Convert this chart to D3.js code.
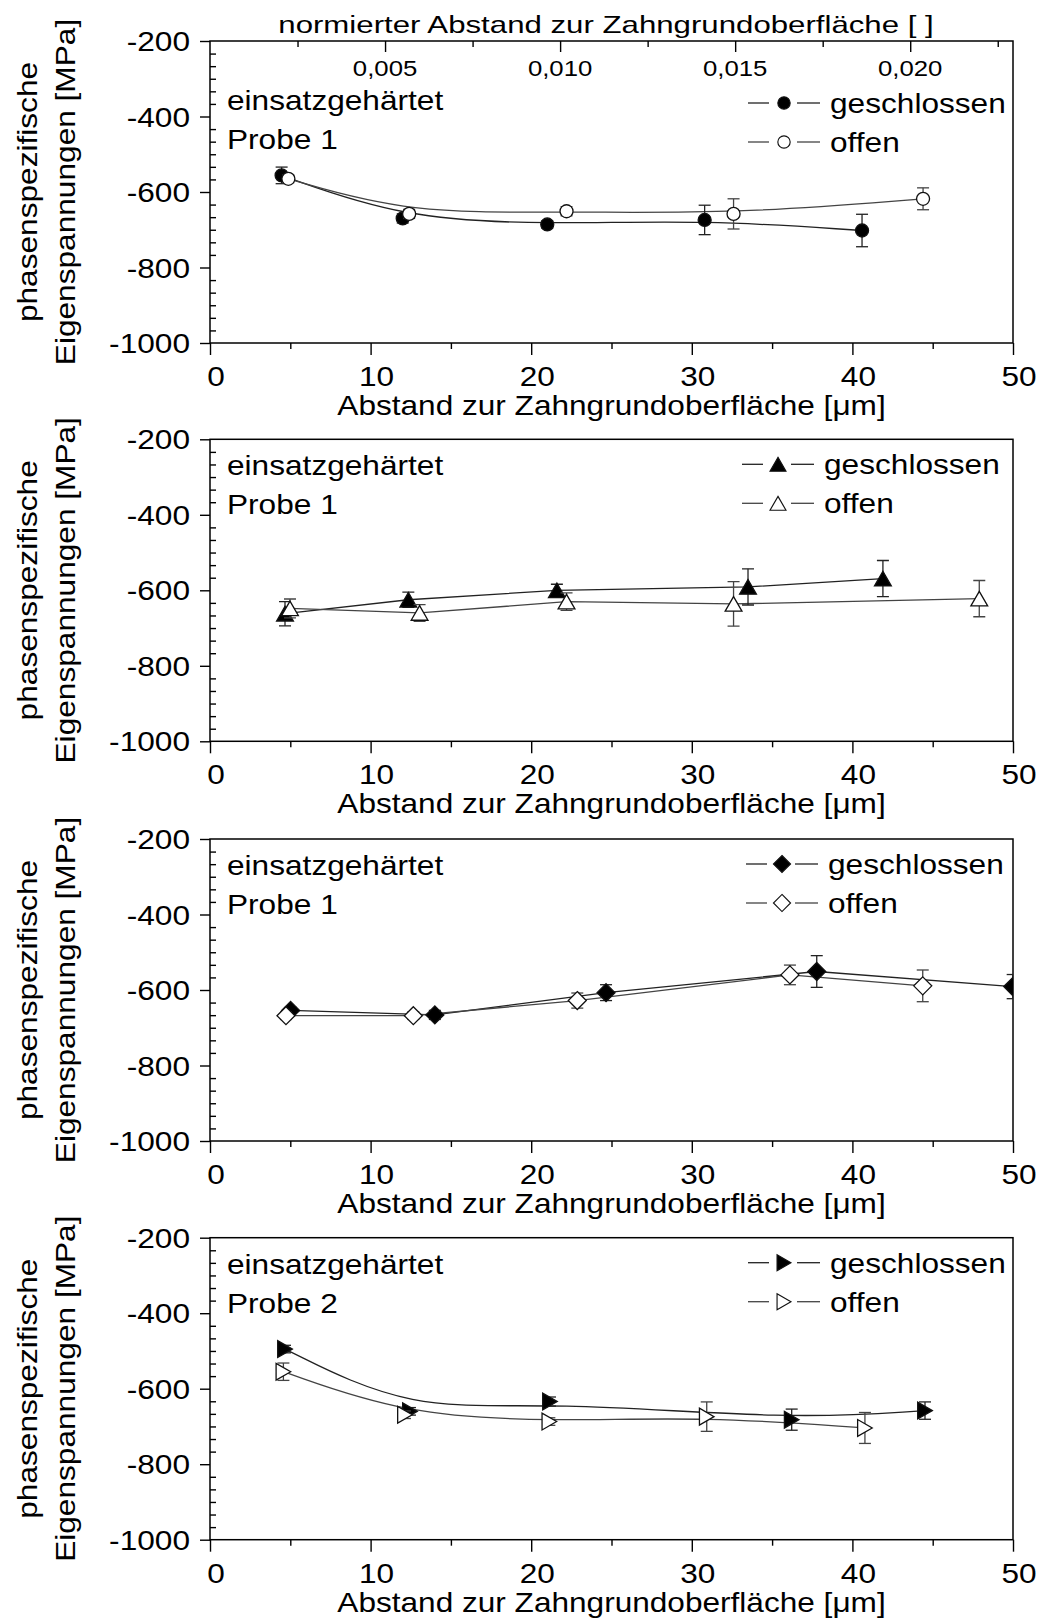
<!DOCTYPE html>
<html>
<head>
<meta charset="utf-8">
<script src="https://cdn.jsdelivr.net/npm/d3@7"></script>
<style>
  body { margin: 0; background: #fff; }
  svg { display: block; font-family: "Liberation Sans", Arial, sans-serif; }
</style>
</head>
<body>
<svg width="1041" height="1620"></svg>
<script>
// tick values
const xTicks = [0, 10, 20, 30, 40, 50];
const xMinor = [5, 15, 25, 35, 45];
const yTicks = [-200, -400, -600, -800, -1000];
const topTicks = [0.005, 0.010, 0.015, 0.020];
const topTickLabels = ["0,005", "0,010", "0,015", "0,020"];
const topMinor = [0.0025, 0.0075, 0.0125, 0.0175, 0.0225];

// panel 1 (circles): distance [µm], stress [MPa], error [MPa]
const p1ClosedX = [4.46, 12.0, 21.0, 30.8, 40.6];
const p1ClosedY = [-556, -670, -686, -674, -702];
const p1ClosedE = [22, 12, 10, 39, 43];
const p1OpenX = [4.88, 12.4, 22.2, 32.6, 44.4];
const p1OpenY = [-565, -658, -651, -658, -618];
const p1OpenE = [10, 12, 12, 40, 29];

// panel 2 (triangles up)
const p2ClosedX = [4.67, 12.35, 21.6, 33.5, 41.9];
const p2ClosedY = [-662, -625, -600, -591, -569];
const p2ClosedE = [32, 20, 16, 48, 48];
const p2OpenX = [4.98, 13.05, 22.2, 32.6, 47.9];
const p2OpenY = [-648, -660, -630, -636, -622];
const p2OpenE = [25, 22, 23, 59, 48];

// panel 3 (diamonds)
const p3ClosedX = [5.02, 14.0, 24.66, 37.78, 49.98];
const p3ClosedY = [-654, -666, -607, -551, -591];
const p3ClosedE = [8, 12, 21, 42, 32];
const p3OpenX = [4.73, 12.66, 22.87, 36.11, 44.38];
const p3OpenY = [-668, -668, -628, -560, -589];
const p3OpenE = [10, 10, 20, 26, 42];

// panel 4 (triangles right), Probe 2
const p4ClosedX = [4.67, 12.45, 21.17, 36.22, 44.52];
const p4ClosedY = [-495, -660, -634, -682, -658];
const p4ClosedE = [10, 10, 12, 28, 23];
const p4OpenX = [4.57, 12.14, 21.13, 30.93, 40.78];
const p4OpenY = [-555, -669, -687, -674, -704];
const p4OpenE = [23, 10, 10, 39, 41];

const sampleLabels = ["Probe 1", "Probe 1", "Probe 1", "Probe 2"];
const seriesNames = ["geschlossen", "offen"];

const svg = d3.select("svg");

// layout
const left = 210, right = 1013, panelH = 302;
const panelTops = [41, 439.3, 839, 1237.7];
const legendX = [748, 742, 746, 748];
const SX = 1.13; // glyph width factor to match the wide original font

function zip(xs, ys, es) {
  return xs.map((x, i) => ({x: x, y: ys[i], e: es[i]}));
}

const panels = [
  {shape: "circle", curve: d3.curveBasis, top: true,
   closed: zip(p1ClosedX, p1ClosedY, p1ClosedE), open: zip(p1OpenX, p1OpenY, p1OpenE)},
  {shape: "up", curve: d3.curveLinear,
   closed: zip(p2ClosedX, p2ClosedY, p2ClosedE), open: zip(p2OpenX, p2OpenY, p2OpenE)},
  {shape: "diamond", curve: d3.curveLinear,
   closed: zip(p3ClosedX, p3ClosedY, p3ClosedE), open: zip(p3OpenX, p3OpenY, p3OpenE)},
  {shape: "right", curve: d3.curveBasis,
   closed: zip(p4ClosedX, p4ClosedY, p4ClosedE), open: zip(p4OpenX, p4OpenY, p4OpenE)}
];

const shapes = {
  circle:  "M6.5,0A6.5,6.5 0 1,1 -6.5,0A6.5,6.5 0 1,1 6.5,0Z",
  up:      "M0,-7.3L8.4,7.3L-8.4,7.3Z",
  right:   "M7.3,0L-7.3,8.4L-7.3,-8.4Z",
  diamond: "M0,-9L9,0L0,9L-9,0Z"
};

function label(parent, str, x, y, opts = {}) {
  const size = opts.size || 28, sx = opts.sx || SX;
  let tr = `translate(${x},${y})`;
  if (opts.rotate) tr += ` rotate(${opts.rotate})`;
  tr += ` scale(${sx},1)`;
  return parent.append("text")
    .attr("transform", tr)
    .attr("text-anchor", opts.anchor || "start")
    .attr("font-size", size)
    .attr("fill", "#000")
    .text(str);
}

function styleAxis(g) {
  g.select(".domain").remove();
  g.selectAll(".tick line").attr("stroke", "#000").attr("stroke-width", 1.4);
  g.selectAll(".tick text").remove();
}

const x = d3.scaleLinear().domain([0, 50]).range([left, right]);
// normalised distance: 50 µm correspond to 50/2180
const xTop = d3.scaleLinear().domain([0, 50 / 2180]).range([left, right]);

panels.forEach(function(p, i) {
  const top = panelTops[i];
  const bottom = top + panelH;
  const y = d3.scaleLinear().domain([-1000, -200]).range([bottom, top]);
  const g = svg.append("g");

  // minor y ticks: five between each pair of majors
  const yMinor = [];
  for (let k = 0; k < yTicks.length - 1; k++) {
    const step = (yTicks[k + 1] - yTicks[k]) / 6;
    for (let j = 1; j <= 5; j++) yMinor.push(yTicks[k] + j * step);
  }

  // clip for data
  g.append("clipPath").attr("id", "clip" + i)
    .append("rect").attr("x", left).attr("y", top).attr("width", right - left).attr("height", panelH);

  // axes
  g.append("g").attr("transform", `translate(0,${bottom})`)
    .call(d3.axisBottom(x).tickValues(xTicks).tickSize(12)).call(styleAxis);
  g.append("g").attr("transform", `translate(0,${bottom})`)
    .call(d3.axisBottom(x).tickValues(xMinor).tickSize(6)).call(styleAxis);
  g.append("g").attr("transform", `translate(${left},0)`)
    .call(d3.axisLeft(y).tickValues(yTicks).tickSize(10)).call(styleAxis);
  g.append("g").attr("transform", `translate(${left},0)`)
    .call(d3.axisRight(y).tickValues(yMinor).tickSize(6)).call(styleAxis);

  if (p.top) {
    g.append("g").attr("transform", `translate(0,${top})`)
      .call(d3.axisBottom(xTop).tickValues(topTicks).tickSize(11)).call(styleAxis);
    g.append("g").attr("transform", `translate(0,${top})`)
      .call(d3.axisBottom(xTop).tickValues(topMinor).tickSize(6)).call(styleAxis);
    topTicks.forEach((t, k) => label(g, topTickLabels[k], xTop(t), top + 35, {size: 22, sx: 1.17, anchor: "middle"}));
    label(g, "normierter Abstand zur Zahngrundoberfläche [ ]", 606, top - 8, {size: 24, sx: 1.3, anchor: "middle"});
  }

  g.append("rect")
    .attr("x", left).attr("y", top).attr("width", right - left).attr("height", panelH)
    .attr("fill", "none").attr("stroke", "#000").attr("stroke-width", 1.5);

  // tick labels
  xTicks.forEach(t => label(g, String(t), x(t) + 6, bottom + 43, {size: 27, sx: 1.17, anchor: "middle"}));
  yTicks.forEach(t => label(g, String(t), left - 20, y(t) + 10, {anchor: "end"}));

  // axis titles
  label(g, "Abstand zur Zahngrundoberfläche [\u03bcm]", (left + right) / 2, bottom + 72, {size: 27, sx: 1.17, anchor: "middle"});
  const cy = (top + bottom) / 2;
  label(g, "phasenspezifische", 37, cy, {anchor: "middle", rotate: -90});
  label(g, "Eigenspannungen [MPa]", 75, cy, {anchor: "middle", rotate: -90});

  // annotation
  const annY = p.top ? top + 69 : top + 36;
  label(g, "einsatzgehärtet", 227, annY);
  label(g, sampleLabels[i], 227, annY + 39);

  // data
  const data = g.append("g").attr("clip-path", `url(#clip${i})`);
  const line = d3.line().x(d => x(d.x)).y(d => y(d.y)).curve(p.curve);
  const series = [
    {values: p.closed, fill: "#000", stroke: "#222"},
    {values: p.open, fill: "#fff", stroke: "#444"}
  ];

  series.forEach(function(s) {
    data.append("path")
      .datum(s.values)
      .attr("d", line)
      .attr("fill", "none")
      .attr("stroke", s.stroke)
      .attr("stroke-width", 1.3);
  });

  series.forEach(function(s) {
    const eb = data.append("g").attr("stroke", s.stroke).attr("stroke-width", 1.3);
    s.values.forEach(function(d) {
      const cx = x(d.x), ya = y(d.y + d.e), yb = y(d.y - d.e);
      eb.append("line").attr("x1", cx).attr("x2", cx).attr("y1", ya).attr("y2", yb);
      eb.append("line").attr("x1", cx - 6).attr("x2", cx + 6).attr("y1", ya).attr("y2", ya);
      eb.append("line").attr("x1", cx - 6).attr("x2", cx + 6).attr("y1", yb).attr("y2", yb);
    });
    data.selectAll(null)
      .data(s.values)
      .enter()
      .append("path")
      .attr("d", shapes[p.shape])
      .attr("transform", d => `translate(${x(d.x)},${y(d.y)})`)
      .attr("fill", s.fill)
      .attr("stroke", "#111")
      .attr("stroke-width", 1.3);
  });

  // legend
  const lx = legendX[i];
  const rows = p.top ? [top + 62, top + 101] : [top + 25, top + 64];
  series.forEach(function(s, k) {
    const ly = rows[k];
    g.append("line").attr("x1", lx).attr("x2", lx + 21).attr("y1", ly).attr("y2", ly)
      .attr("stroke", s.stroke).attr("stroke-width", 1.3);
    g.append("line").attr("x1", lx + 49).attr("x2", lx + 72).attr("y1", ly).attr("y2", ly)
      .attr("stroke", s.stroke).attr("stroke-width", 1.3);
    g.append("path")
      .attr("d", shapes[p.shape])
      .attr("transform", `translate(${lx + 36},${ly}) scale(0.95)`)
      .attr("fill", s.fill)
      .attr("stroke", "#111")
      .attr("stroke-width", 1.2);
    label(g, seriesNames[k], lx + 82, ly + 10);
  });
});
</script>
</body>
</html>
